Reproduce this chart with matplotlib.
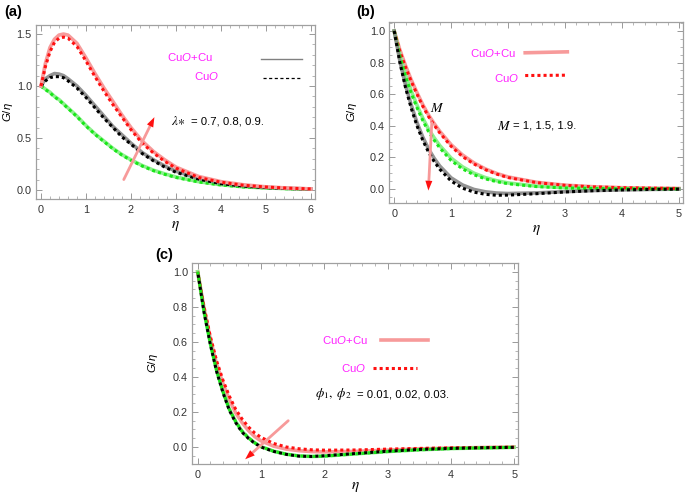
import matplotlib
matplotlib.use('Agg')
import matplotlib.pyplot as plt
from matplotlib.ticker import MultipleLocator

plt.rcParams['font.family'] = ['Liberation Sans', 'DejaVu Sans']
plt.rcParams['mathtext.fontset'] = 'custom'
plt.rcParams['mathtext.rm'] = 'Liberation Sans'
plt.rcParams['mathtext.it'] = 'Liberation Sans:italic'

# ---------------- Panel (a): lambda* = 0.7, 0.8, 0.9 ----------------
eta_a = [0, 0.1, 0.2, 0.3, 0.4, 0.5, 0.6, 0.8, 1.0, 1.2, 1.4, 1.6, 1.8, 2.0,
         2.25, 2.5, 2.75, 3.0, 3.5, 4.0, 4.5, 5.0, 5.5, 6.0]
a_red_hybrid = [1.0, 1.22, 1.37, 1.45, 1.49, 1.50, 1.49, 1.41, 1.27, 1.12, 0.98, 0.85, 0.72, 0.60,
                0.47, 0.37, 0.29, 0.22, 0.13, 0.08, 0.05, 0.03, 0.018, 0.01]
a_red_cuo = [1.0, 1.19, 1.33, 1.42, 1.46, 1.47, 1.46, 1.38, 1.24, 1.09, 0.95, 0.82, 0.70, 0.58,
             0.45, 0.355, 0.275, 0.21, 0.12, 0.075, 0.045, 0.028, 0.017, 0.01]
a_gray_hybrid = [1.0, 1.07, 1.10, 1.12, 1.115, 1.10, 1.07, 1.00, 0.91, 0.81, 0.71, 0.61, 0.53, 0.45,
                 0.36, 0.29, 0.23, 0.18, 0.11, 0.065, 0.04, 0.025, 0.015, 0.01]
a_black_cuo = [1.0, 1.05, 1.08, 1.09, 1.09, 1.08, 1.05, 0.98, 0.89, 0.79, 0.69, 0.60, 0.51, 0.44,
               0.35, 0.28, 0.22, 0.17, 0.105, 0.06, 0.037, 0.022, 0.014, 0.008]
a_green_hybrid = [1.0, 0.97, 0.94, 0.90, 0.87, 0.83, 0.79, 0.71, 0.62, 0.54, 0.47, 0.40, 0.34, 0.29,
                  0.235, 0.19, 0.155, 0.125, 0.08, 0.05, 0.03, 0.02, 0.012, 0.007]
a_green_cuo = [1.0, 0.965, 0.935, 0.895, 0.865, 0.825, 0.785, 0.705, 0.615, 0.535, 0.465, 0.395, 0.335, 0.285,
               0.23, 0.185, 0.15, 0.12, 0.077, 0.048, 0.029, 0.019, 0.011, 0.006]

# ---------------- Panel (b): M = 1, 1.5, 1.9 ----------------
eta_b = [0, 0.1, 0.2, 0.3, 0.4, 0.5, 0.6, 0.7, 0.8, 1.0, 1.2, 1.4, 1.6, 1.8, 2.0,
         2.5, 3.0, 3.5, 4.0, 4.5, 5.0]
b_red_hybrid = [1.0, 0.88, 0.78, 0.69, 0.61, 0.535, 0.47, 0.415, 0.365, 0.28, 0.215, 0.165, 0.127,
                0.098, 0.076, 0.042, 0.024, 0.014, 0.008, 0.005, 0.003]
b_red_cuo = [1.0, 0.87, 0.77, 0.68, 0.60, 0.525, 0.46, 0.405, 0.355, 0.27, 0.205, 0.158, 0.122,
             0.094, 0.072, 0.040, 0.023, 0.013, 0.008, 0.005, 0.003]
b_green_hybrid = [1.0, 0.85, 0.72, 0.62, 0.53, 0.45, 0.38, 0.325, 0.275, 0.195, 0.14, 0.10, 0.072,
                  0.052, 0.038, 0.018, 0.008, 0.004, 0.002, 0.001, 0.0]
b_green_cuo = [1.0, 0.84, 0.71, 0.605, 0.515, 0.435, 0.365, 0.31, 0.26, 0.18, 0.127, 0.09, 0.064,
               0.046, 0.033, 0.015, 0.006, 0.003, 0.001, 0.0, 0.0]
b_gray_hybrid = [1.0, 0.81, 0.655, 0.53, 0.42, 0.33, 0.255, 0.195, 0.145, 0.07, 0.025, -0.003, -0.018,
                 -0.026, -0.029, -0.025, -0.017, -0.01, -0.006, -0.003, -0.001]
b_black_cuo = [1.0, 0.80, 0.64, 0.51, 0.40, 0.31, 0.235, 0.175, 0.125, 0.05, 0.005, -0.02, -0.034,
               -0.04, -0.039, -0.030, -0.019, -0.011, -0.006, -0.003, -0.001]

# ---------------- Panel (c): phi1, phi2 = 0.01, 0.02, 0.03 ----------------
eta_c = [0, 0.1, 0.2, 0.3, 0.4, 0.5, 0.6, 0.7, 0.8, 0.9, 1.0, 1.2, 1.4, 1.6, 1.8, 2.0,
         2.5, 3.0, 3.5, 4.0, 4.5, 5.0]
c_red_cuo = [1.0, 0.80, 0.63, 0.49, 0.38, 0.29, 0.215, 0.16, 0.115, 0.08, 0.055, 0.02, 0.0, -0.01,
             -0.016, -0.018, -0.017, -0.012, -0.008, -0.005, -0.003, -0.001]
c_red_hybrid = [1.0, 0.79, 0.615, 0.47, 0.36, 0.27, 0.195, 0.14, 0.095, 0.06, 0.035, 0.005, -0.012,
                -0.021, -0.026, -0.028, -0.025, -0.018, -0.011, -0.006, -0.003, -0.001]
c_green_hybrid = [1.0, 0.775, 0.59, 0.435, 0.315, 0.215, 0.145, 0.09, 0.053, 0.024, 0.002, -0.024,
                  -0.041, -0.051, -0.054, -0.052, -0.039, -0.026, -0.016, -0.009, -0.005, -0.002]
c_black_cuo = [1.0, 0.77, 0.585, 0.43, 0.31, 0.21, 0.14, 0.085, 0.05, 0.022, 0.0, -0.025, -0.042,
               -0.052, -0.054, -0.05, -0.037, -0.024, -0.014, -0.008, -0.004, -0.002]

PINK = '#f79a9a'
RED = '#ff1010'
LGREEN = '#8ef08e'
GREEN = '#19e619'
GRAY = '#808080'
MAG = '#ff22ff'
DOT = (0, (1, 1))

fig = plt.figure(figsize=(6.85, 4.96), dpi=100)


def style(ax, xlim, ylim, xmaj, xmin, ymaj, ymin, yfmt, ylab_x):
    ax.set_xlim(*xlim)
    ax.set_ylim(*ylim)
    ax.xaxis.set_major_locator(MultipleLocator(xmaj))
    ax.xaxis.set_minor_locator(MultipleLocator(xmin))
    ax.yaxis.set_major_locator(MultipleLocator(ymaj))
    ax.yaxis.set_minor_locator(MultipleLocator(ymin))
    ax.yaxis.set_major_formatter(matplotlib.ticker.FormatStrFormatter(yfmt))
    ax.tick_params(which='both', direction='in', top=True, right=True, colors='#999999',
                   labelcolor='#333333', labelsize=7.8, pad=4)
    ax.tick_params(axis='y', pad=3)
    ax.tick_params(which='major', length=4, width=0.7)
    ax.tick_params(which='minor', length=2, width=0.5)
    for s in ax.spines.values():
        s.set_color('#a0a0a0')
        s.set_linewidth(0.9)
    ax.set_xlabel(r'$\eta$', fontsize=11, math_fontfamily='stix', labelpad=3)
    ax.set_ylabel(r'$G/\eta$', fontsize=8.2)
    ax.yaxis.set_label_coords(ylab_x, 0.5)


def arrow(ax, tail, head):
    ax.annotate('', xy=head, xytext=tail,
                arrowprops=dict(arrowstyle='-', color=PINK, lw=2.0, shrinkA=0, shrinkB=4))
    ax.annotate('', xy=head, xytext=(head[0] + 0.25 * (tail[0] - head[0]),
                                     head[1] + 0.25 * (tail[1] - head[1])),
                arrowprops=dict(arrowstyle='-|>,head_length=0.7,head_width=0.25',
                                color=RED, lw=0.01, shrinkA=0, shrinkB=0))


FS = 8.2

# ----- (a)
ax = fig.add_axes([0.0526, 0.5988, 0.4073, 0.3508])
ax.plot(eta_a, a_green_hybrid, color=LGREEN, lw=2.6, solid_capstyle='butt')
ax.plot(eta_a, a_green_cuo, color=GREEN, lw=2.2, ls=DOT)
ax.plot(eta_a, a_gray_hybrid, color=GRAY, lw=2.6, alpha=0.85)
ax.plot(eta_a, a_black_cuo, color='black', lw=2.2, ls=DOT)
ax.plot(eta_a, a_red_hybrid, color=PINK, lw=2.6)
ax.plot(eta_a, a_red_cuo, color=RED, lw=2.2, ls=DOT)
style(ax, (-0.11, 6.09), (-0.087, 1.587), 1, 0.2, 0.5, 0.1, '%.1f', -0.074)
arrow(ax, (1.84, 0.1), (2.52, 0.70))
ax.text(2.8, 1.28, r'Cu$\mathit{O}$+Cu', color=MAG, fontsize=FS, va='center')
ax.text(3.4, 1.10, r'Cu$\mathit{O}$', color=MAG, fontsize=FS, va='center')
ax.plot([4.9, 5.8], [1.26, 1.26], color=GRAY, lw=1.0)
ax.plot([4.93, 5.75], [1.08, 1.08], color='black', lw=0.9, ls=(0, (2.5, 2)))
ax.text(2.88, 0.66, r'$\lambda{\ast}$', fontsize=9.5, va='center', math_fontfamily='stix')
ax.text(3.33, 0.66, '= 0.7, 0.8, 0.9.', fontsize=FS, va='center')
fig.text(0.006, 0.975, '(a)', fontsize=10.5, fontweight='bold', va='center')

# ----- (b)
ax = fig.add_axes([0.568, 0.5907, 0.429, 0.365])
ax.plot(eta_b, b_red_hybrid, color=PINK, lw=2.6)
ax.plot(eta_b, b_green_hybrid, color=LGREEN, lw=2.6)
ax.plot(eta_b, b_gray_hybrid, color=GRAY, lw=2.6, alpha=0.85)
ax.plot(eta_b, b_red_cuo, color=RED, lw=2.2, ls=DOT)
ax.plot(eta_b, b_green_cuo, color=GREEN, lw=2.2, ls=DOT)
ax.plot(eta_b, b_black_cuo, color='black', lw=2.2, ls=DOT)
style(ax, (-0.09, 5.07), (-0.089, 1.057), 1, 0.2, 0.2, 0.05, '%.1f', -0.102)
arrow(ax, (0.66, 0.42), (0.6, -0.01))
ax.text(0.62, 0.51, r'$M$', fontsize=10, va='center', math_fontfamily='stix')
ax.text(1.8, 0.40, r'$M$', fontsize=10, va='center', math_fontfamily='stix')
ax.text(2.08, 0.40, '= 1, 1.5, 1.9.', fontsize=FS, va='center')
ax.text(1.33, 0.86, r'Cu$\mathit{O}$+Cu', color=MAG, fontsize=FS, va='center')
ax.text(1.75, 0.70, r'Cu$\mathit{O}$', color=MAG, fontsize=FS, va='center')
ax.plot([2.3, 3.04], [0.862, 0.868], color=PINK, lw=2.6)
ax.plot([2.3, 3.0], [0.718, 0.72], color=RED, lw=2.2, ls=DOT)
fig.text(0.52, 0.975, '(b)', fontsize=10.5, fontweight='bold', va='center')

# ----- (c)
ax = fig.add_axes([0.2803, 0.0645, 0.4759, 0.4053])
ax.plot(eta_c, c_red_hybrid, color=PINK, lw=2.6)
ax.plot(eta_c, c_green_hybrid, color=LGREEN, lw=2.6)
ax.plot(eta_c, c_red_cuo, color=RED, lw=2.2, ls=DOT)
ax.plot(eta_c, c_green_hybrid, color=GREEN, lw=2.2, ls=DOT)
ax.plot(eta_c, c_black_cuo, color='black', lw=2.2, ls=(1, (1, 1)))
style(ax, (-0.09, 5.06), (-0.097, 1.05), 1, 0.2, 0.2, 0.05, '%.1f', -0.098)
ax.xaxis.labelpad = 0
arrow(ax, (1.43, 0.15), (0.75, -0.07))
ax.text(1.97, 0.61, r'Cu$\mathit{O}$+Cu', color=MAG, fontsize=FS, va='center')
ax.text(2.26, 0.45, r'Cu$\mathit{O}$', color=MAG, fontsize=FS, va='center')
ax.plot([2.9, 3.64], [0.61, 0.61], color=PINK, lw=2.6)
ax.plot([2.77, 3.46], [0.453, 0.453], color=RED, lw=2.2, ls=DOT)
ax.text(1.86, 0.30, r'$\phi_1,\ \phi_2$', fontsize=9.5, va='center', math_fontfamily='stix')
ax.text(2.52, 0.30, '= 0.01, 0.02, 0.03.', fontsize=FS, va='center')
fig.text(0.226, 0.486, '(c)', fontsize=10.5, fontweight='bold', va='center')

fig.savefig('out.png', dpi=100)
